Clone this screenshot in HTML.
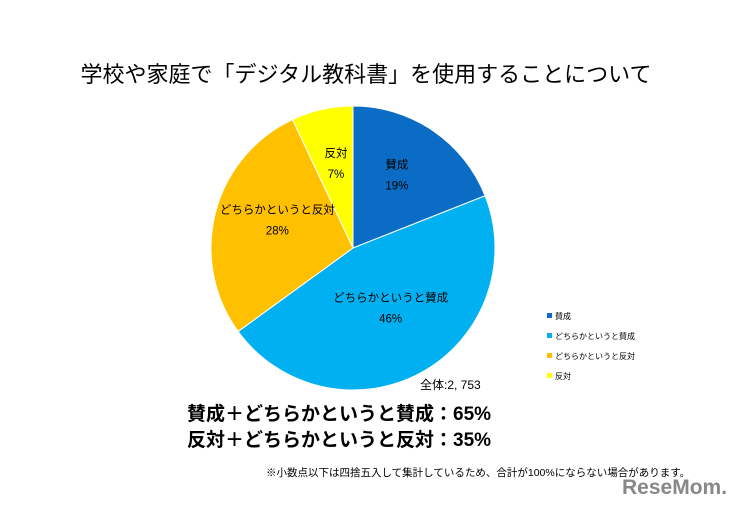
<!DOCTYPE html>
<html><head><meta charset="utf-8"><style>
body{margin:0;background:#fff;width:731px;height:507px;overflow:hidden;font-family:"Liberation Sans","Noto Sans CJK JP",sans-serif;}
svg text{font-family:"Liberation Sans","Noto Sans CJK JP",sans-serif;}
</style></head><body>
<svg id="chart" width="731" height="507">
<text x="366" y="82" text-anchor="middle" font-size="22" fill="#000">学校や家庭で「デジタル教科書」を使用することについて</text>
<g id="slices"></g>
<g id="labels"></g>
<g id="legend"></g>
<text x="420" y="389" font-size="12" fill="#000">全体:2, 753</text>
<text x="187" y="420" font-size="19" font-weight="bold" fill="#000">賛成＋どちらかというと賛成：65%</text>
<text x="187" y="446" font-size="19" font-weight="bold" fill="#000">反対＋どちらかというと反対：35%</text>
<text x="266" y="476" font-size="10.5" fill="#000">※小数点以下は四捨五入して集計しているため、合計が100%にならない場合があります。</text>
<text x="622" y="494" font-size="21" font-weight="bold" fill="#888">ReseMom.</text>
</svg>
<script>
const categories=["賛成","どちらかというと賛成","どちらかというと反対","反対"];
const values=[19,46,28,7];
const colors=["#0a6cc4","#00b0f0","#ffc000","#ffff00"];
const ns="http://www.w3.org/2000/svg";
const cx=353,cy=248,r=142;
const total=values.reduce((a,b)=>a+b,0);
const pt=(f,rr)=>{const a=f*2*Math.PI;return [cx+rr*Math.sin(a),cy-rr*Math.cos(a)];};
let acc=0;
const sg=document.getElementById('slices'),lg=document.getElementById('labels'),leg=document.getElementById('legend');
values.forEach((v,i)=>{
  const f0=acc/total,f1=(acc+v)/total;acc+=v;
  const [x0,y0]=pt(f0,r),[x1,y1]=pt(f1,r);
  const p=document.createElementNS(ns,'path');
  p.setAttribute('d',`M${cx},${cy}L${x0},${y0}A${r},${r} 0 ${f1-f0>0.5?1:0} 1 ${x1},${y1}Z`);
  p.setAttribute('fill',colors[i]);p.setAttribute('stroke','#fff');p.setAttribute('stroke-width','1');
  
  
  sg.appendChild(p);
  const [lx,ly]=pt((f0+f1)/2,r*0.55);
  const t1=document.createElementNS(ns,'text');
  t1.setAttribute('x',lx);t1.setAttribute('y',ly-15);t1.setAttribute('text-anchor','middle');t1.setAttribute('font-size','11.5');
  t1.textContent=categories[i];
  
  
  lg.appendChild(t1);
  const t2=document.createElementNS(ns,'text');
  t2.setAttribute('x',lx);t2.setAttribute('y',ly+6);t2.setAttribute('text-anchor','middle');t2.setAttribute('font-size','11.5');
  t2.textContent=v+'%';
  
  
  lg.appendChild(t2);
  const ly2=318+i*20;
  const sq=document.createElementNS(ns,'rect');
  sq.setAttribute('x',547);sq.setAttribute('y',ly2-5);sq.setAttribute('width',5);sq.setAttribute('height',5);sq.setAttribute('fill',colors[i]);
  
  
  leg.appendChild(sq);
  const lt=document.createElementNS(ns,'text');
  lt.setAttribute('x',555);lt.setAttribute('y',ly2+1);lt.setAttribute('font-size','8');lt.textContent=categories[i];
  
  
  leg.appendChild(lt);
});
</script>
</body></html>
